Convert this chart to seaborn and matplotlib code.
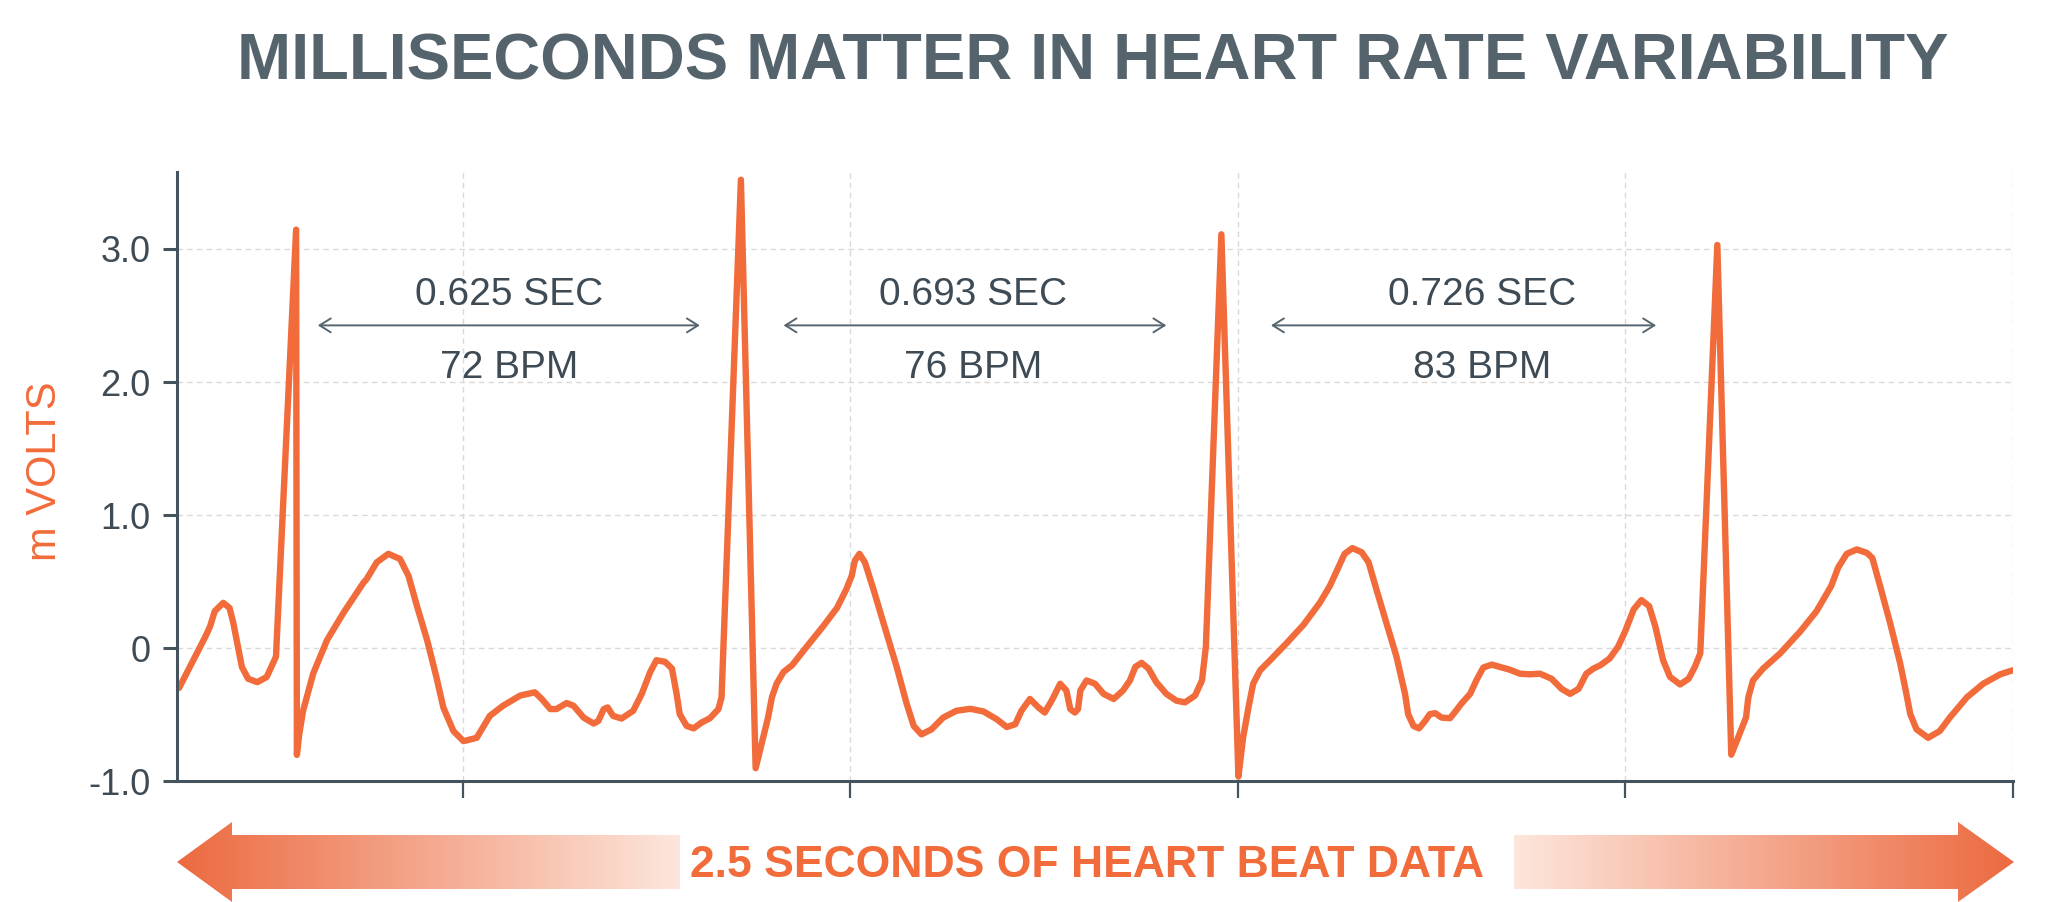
import numpy as np
import matplotlib
matplotlib.use('Agg')
import matplotlib.pyplot as plt
from matplotlib.colors import LinearSegmentedColormap
from matplotlib.patches import Polygon, ArrowStyle
import seaborn as sns

# ECG trace: time in seconds, voltage in mV
time_s = [0.134, 0.168, 0.174, 0.180, 0.191, 0.199, 0.204, 0.215, 0.223, 0.235,
          0.247, 0.259, 0.285, 0.286, 0.289, 0.294, 0.307, 0.325, 0.346, 0.372,
          0.376, 0.389, 0.404, 0.419, 0.430, 0.441, 0.454, 0.466, 0.475, 0.488,
          0.501, 0.518, 0.535, 0.552, 0.574, 0.593, 0.602, 0.613, 0.621, 0.634,
          0.643, 0.656, 0.669, 0.675, 0.682, 0.687, 0.694, 0.705, 0.720, 0.731,
          0.742, 0.750, 0.761, 0.770, 0.776, 0.780, 0.789, 0.798, 0.808, 0.819,
          0.830, 0.834, 0.859, 0.878, 0.894, 0.899, 0.905, 0.914, 0.925, 0.944,
          0.965, 0.983, 0.995, 1.002, 1.006, 1.012, 1.019, 1.030, 1.043, 1.060,
          1.073, 1.082, 1.092, 1.105, 1.120, 1.137, 1.155, 1.172, 1.189, 1.202,
          1.213, 1.221, 1.232, 1.243, 1.251, 1.260, 1.271, 1.279, 1.284, 1.290,
          1.294, 1.297, 1.305, 1.316, 1.327, 1.340, 1.352, 1.361, 1.368, 1.376,
          1.385, 1.395, 1.408, 1.421, 1.432, 1.445, 1.454, 1.459, 1.479, 1.501,
          1.507, 1.514, 1.520, 1.529, 1.542, 1.563, 1.585, 1.606, 1.619, 1.630,
          1.638, 1.648, 1.660, 1.669, 1.679, 1.692, 1.705, 1.716, 1.720, 1.727,
          1.734, 1.742, 1.748, 1.755, 1.763, 1.774, 1.780, 1.789, 1.800, 1.808,
          1.817, 1.828, 1.838, 1.851, 1.864, 1.877, 1.890, 1.905, 1.918, 1.929,
          1.940, 1.950, 1.959, 1.968, 1.980, 1.991, 2.000, 2.011, 2.021, 2.031,
          2.039, 2.049, 2.058, 2.071, 2.082, 2.090, 2.097, 2.119, 2.137, 2.156,
          2.159, 2.165, 2.178, 2.200, 2.226, 2.247, 2.266, 2.275, 2.286, 2.299,
          2.312, 2.319, 2.329, 2.342, 2.355, 2.363, 2.368, 2.376, 2.391, 2.406,
          2.419, 2.441, 2.462, 2.484, 2.500]
millivolts = [-0.297, 0.089, 0.165, 0.279, 0.342, 0.304, 0.190, -0.139, -0.228, -0.254,
              -0.215, -0.063, 3.145, -0.800, -0.646, -0.469, -0.190, 0.063, 0.266, 0.494,
              0.520, 0.646, 0.710, 0.672, 0.545, 0.317, 0.063, -0.215, -0.444, -0.621,
              -0.697, -0.672, -0.507, -0.431, -0.355, -0.330, -0.380, -0.456, -0.456, -0.411,
              -0.431, -0.520, -0.565, -0.545, -0.456, -0.444, -0.507, -0.527, -0.469, -0.342,
              -0.177, -0.089, -0.101, -0.152, -0.342, -0.494, -0.583, -0.601, -0.558, -0.525,
              -0.456, -0.368, 3.520, -0.900, -0.520, -0.368, -0.266, -0.177, -0.127, 0.013,
              0.165, 0.304, 0.444, 0.545, 0.659, 0.710, 0.646, 0.444, 0.190, -0.139,
              -0.418, -0.583, -0.646, -0.608, -0.520, -0.469, -0.454, -0.474, -0.532, -0.591,
              -0.570, -0.469, -0.380, -0.444, -0.482, -0.393, -0.266, -0.317, -0.456, -0.482,
              -0.456, -0.317, -0.241, -0.266, -0.342, -0.380, -0.317, -0.241, -0.139, -0.109,
              -0.152, -0.254, -0.342, -0.393, -0.406, -0.355, -0.241, 0.013, 3.110, -0.963,
              -0.672, -0.444, -0.266, -0.165, -0.089, 0.038, 0.177, 0.342, 0.469, 0.608,
              0.710, 0.753, 0.722, 0.646, 0.444, 0.190, -0.063, -0.342, -0.494, -0.583,
              -0.601, -0.545, -0.494, -0.487, -0.520, -0.525, -0.482, -0.413, -0.342, -0.241,
              -0.144, -0.122, -0.139, -0.160, -0.190, -0.195, -0.190, -0.228, -0.304, -0.342,
              -0.304, -0.190, -0.152, -0.127, -0.076, 0.013, 0.127, 0.292, 0.363, 0.317,
              0.165, -0.089, -0.215, -0.271, -0.228, -0.139, -0.038, 3.030, -0.799, -0.520,
              -0.368, -0.241, -0.152, -0.038, 0.127, 0.279, 0.469, 0.608, 0.710, 0.743,
              0.717, 0.679, 0.469, 0.190, -0.114, -0.342, -0.494, -0.608, -0.672, -0.621,
              -0.520, -0.368, -0.266, -0.195, -0.165]

y_ticks = [-1.0, 0, 1.0, 2.0, 3.0]
y_tick_labels = ['-1.0', '0', '1.0', '2.0', '3.0']
x_ticks = [0.5, 1.0, 1.5, 2.0, 2.5]

interval_labels = ['0.625 SEC', '0.693 SEC', '0.726 SEC']
bpm_labels = ['72 BPM', '76 BPM', '83 BPM']

title = 'MILLISECONDS MATTER IN HEART RATE VARIABILITY'
footer = '2.5 SECONDS OF HEART BEAT DATA'

# layout of the interval annotations (data units)
label_x = [0.560, 1.159, 1.816]
span_left = [0.313, 0.914, 1.543]
span_right = [0.806, 1.408, 2.040]
sec_y, span_y, bpm_y = 2.58, 2.426, 2.03

ORANGE = '#f26b3a'
SLATE = '#3e4b55'

sns.set_theme(style='white')
plt.rcParams['font.family'] = ['Liberation Sans', 'DejaVu Sans']

fig = plt.figure(figsize=(20.48, 9.02), dpi=100)
ax = fig.add_axes([0.0862, 0.1336, 0.8965, 0.676])

sns.lineplot(x=time_s, y=millivolts, ax=ax, sort=False, estimator=None,
             color=ORANGE, linewidth=4.6)

ax.set_xlim(0.1307, 2.5)
ax.set_ylim(-1.0, 3.58)
ax.set_xticks(x_ticks)
ax.set_xticklabels([])
ax.set_yticks(y_ticks, labels=y_tick_labels)
ax.set_xlabel('')
ax.set_ylabel('')

for side in ['top', 'right']:
    ax.spines[side].set_visible(False)
for side in ['left', 'bottom']:
    ax.spines[side].set_color('#45535d')
    ax.spines[side].set_linewidth(2.2)

ax.tick_params(axis='y', left=True, length=9.8, width=2.2, pad=9,
               labelsize=26, color='#45535d', labelcolor=SLATE)
ax.tick_params(axis='x', bottom=True, length=12.5, width=1.6, color='#45535d')
ax.grid(True, color='#d9d9d9', linewidth=1.0, linestyle=(0, (4, 3)))
ax.set_axisbelow(True)

# RR interval annotations
for i in range(len(interval_labels)):
    ax.annotate('', xy=(span_left[i], span_y), xytext=(span_right[i], span_y),
                arrowprops=dict(arrowstyle=ArrowStyle('<->', head_length=0.4, head_width=0.25),
                                mutation_scale=20, color='#56656f', lw=1.4,
                                shrinkA=0, shrinkB=0))
    ax.text(label_x[i], sec_y, interval_labels[i], ha='center', va='baseline',
            fontsize=28, color=SLATE)
    ax.text(label_x[i], bpm_y, bpm_labels[i], ha='center', va='baseline',
            fontsize=28, color=SLATE)

fig.text(0.0273, 0.4773, 'm VOLTS', rotation=90, rotation_mode='anchor',
         ha='center', va='baseline', fontsize=30, color=ORANGE)

fig.text(0.5337, 0.912, title, ha='center', va='baseline', fontsize=46.8,
         fontweight='bold', color='#55636d')

# gradient double arrow under the chart (pixel space overlay)
deco = fig.add_axes([0, 0, 1, 1])
deco.axis('off')
fade_out = LinearSegmentedColormap.from_list('fade_out', ['#ec6a40', '#fde6dc'])
ramp = np.linspace(0, 1, 256).reshape(1, -1)

left_shape = Polygon([(177, 862), (232, 822), (232, 835), (680, 835), (680, 889),
                      (232, 889), (232, 902)], closed=True, facecolor='none', edgecolor='none')
right_shape = Polygon([(2014, 862), (1958, 822), (1958, 835), (1514, 835), (1514, 889),
                       (1958, 889), (1958, 902)], closed=True, facecolor='none', edgecolor='none')
deco.add_patch(left_shape)
deco.add_patch(right_shape)
img_l = deco.imshow(ramp, cmap=fade_out, extent=(177, 680, 902, 822), aspect='auto')
img_l.set_clip_path(left_shape)
img_r = deco.imshow(ramp[:, ::-1], cmap=fade_out, extent=(1514, 2014, 902, 822), aspect='auto')
img_r.set_clip_path(right_shape)
deco.set_xlim(0, 2048)
deco.set_ylim(902, 0)

fig.text(0.531, 0.0272, footer, ha='center', va='baseline', fontsize=32,
         fontweight='bold', color=ORANGE)

fig.savefig('out.png', dpi=100)
